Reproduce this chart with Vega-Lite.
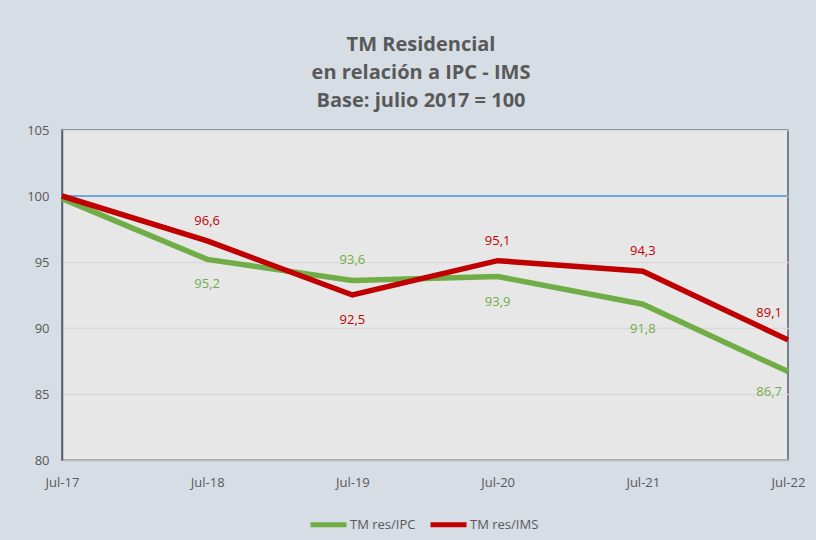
{
  "$schema": "https://vega.github.io/schema/vega-lite/v6.json",
  "width": 726,
  "height": 330,
  "autosize": "none",
  "padding": {"left": 62, "top": 130, "right": 28, "bottom": 80},
  "background": "#d6dde5",
  "config": {
    "locale": {"number": {"decimal": ",", "thousands": ".", "grouping": [3], "currency": ["", " €"]}},
    "font": "Open Sans",
    "view": {"fill": "#e7e7e7", "stroke": "#56606d", "strokeWidth": 1.5}
  },
  "title": {
    "text": ["TM Residencial", "en relación a IPC - IMS", "Base: julio 2017 = 100"],
    "anchor": "middle",
    "font": "Open Sans",
    "fontSize": 20,
    "fontWeight": "bold",
    "color": "#595959",
    "lineHeight": 28,
    "offset": 13,
    "dx": -4
  },
  "data": {
    "values": [
      {"fecha": "Jul-17", "serie": "TM res/IPC", "valor": 99.8},
      {"fecha": "Jul-18", "serie": "TM res/IPC", "valor": 95.2},
      {"fecha": "Jul-19", "serie": "TM res/IPC", "valor": 93.6},
      {"fecha": "Jul-20", "serie": "TM res/IPC", "valor": 93.9},
      {"fecha": "Jul-21", "serie": "TM res/IPC", "valor": 91.8},
      {"fecha": "Jul-22", "serie": "TM res/IPC", "valor": 86.7},
      {"fecha": "Jul-17", "serie": "TM res/IMS", "valor": 100.0},
      {"fecha": "Jul-18", "serie": "TM res/IMS", "valor": 96.6},
      {"fecha": "Jul-19", "serie": "TM res/IMS", "valor": 92.5},
      {"fecha": "Jul-20", "serie": "TM res/IMS", "valor": 95.1},
      {"fecha": "Jul-21", "serie": "TM res/IMS", "valor": 94.3},
      {"fecha": "Jul-22", "serie": "TM res/IMS", "valor": 89.1}
    ]
  },
  "encoding": {
    "x": {
      "field": "fecha",
      "type": "ordinal",
      "sort": ["Jul-17", "Jul-18", "Jul-19", "Jul-20", "Jul-21", "Jul-22"],
      "scale": {"type": "point", "padding": 0},
      "axis": {
        "title": null,
        "labelAngle": 0,
        "labelColor": "#595959",
        "labelFontSize": 13,
        "labelPadding": 16,
        "ticks": false,
        "domainColor": "#bfbfbf",
        "domainWidth": 2,
        "grid": false
      }
    },
    "y": {
      "field": "valor",
      "type": "quantitative",
      "scale": {"domain": [80, 105], "nice": false, "zero": false},
      "axis": {
        "title": null,
        "values": [80, 85, 90, 95, 100, 105],
        "labelColor": "#595959",
        "labelFontSize": 13,
        "labelPadding": 13,
        "ticks": false,
        "domainColor": "#56606d",
        "domainWidth": 1.5,
        "gridColor": "#d9d9d9",
        "gridWidth": 1.5
      }
    }
  },
  "layer": [
    {
      "mark": {"type": "rule", "color": "#6fa8dc", "strokeWidth": 2},
      "encoding": {"y": {"datum": 100}, "x": null}
    },
    {
      "mark": {"type": "line", "strokeWidth": 5.5, "strokeJoin": "miter"},
      "encoding": {
        "color": {
          "field": "serie",
          "type": "nominal",
          "sort": ["TM res/IPC", "TM res/IMS"],
          "scale": {"domain": ["TM res/IPC", "TM res/IMS"], "range": ["#70ad47", "#c00000"]},
          "legend": {
            "title": null,
            "orient": "none",
            "legendX": 246,
            "legendY": 374,
            "direction": "horizontal",
            "symbolType": "stroke",
            "symbolStrokeWidth": 5,
            "symbolSize": 1296,
            "labelColor": "#595959",
            "labelFontSize": 13,
            "labelOffset": 1,
            "columnPadding": 4
          }
        }
      }
    },
    {
      "transform": [{"filter": "datum.fecha != 'Jul-17' && datum.fecha != 'Jul-22' && ((datum.serie == 'TM res/IMS' && datum.fecha != 'Jul-19') || (datum.serie == 'TM res/IPC' && datum.fecha == 'Jul-19'))"}],
      "mark": {"type": "text", "dy": -20, "fontSize": 13},
      "encoding": {
        "text": {"field": "valor", "type": "quantitative", "format": ".1f"},
        "color": {"field": "serie", "type": "nominal", "scale": {"domain": ["TM res/IPC", "TM res/IMS"], "range": ["#5a8a3a", "#c00000"]}, "legend": null}
      }
    },
    {
      "transform": [{"filter": "datum.fecha != 'Jul-17' && datum.fecha != 'Jul-22' && ((datum.serie == 'TM res/IPC' && datum.fecha != 'Jul-19') || (datum.serie == 'TM res/IMS' && datum.fecha == 'Jul-19'))"}],
      "mark": {"type": "text", "dy": 25, "fontSize": 13},
      "encoding": {
        "text": {"field": "valor", "type": "quantitative", "format": ".1f"},
        "color": {"field": "serie", "type": "nominal", "scale": {"domain": ["TM res/IPC", "TM res/IMS"], "range": ["#5a8a3a", "#c00000"]}, "legend": null}
      }
    },
    {
      "transform": [{"filter": "datum.fecha == 'Jul-22' && datum.serie == 'TM res/IMS'"}],
      "mark": {"type": "text", "dy": -27, "dx": -6, "align": "right", "fontSize": 13},
      "encoding": {
        "text": {"field": "valor", "type": "quantitative", "format": ".1f"},
        "color": {"field": "serie", "type": "nominal", "scale": {"domain": ["TM res/IPC", "TM res/IMS"], "range": ["#5a8a3a", "#c00000"]}, "legend": null}
      }
    },
    {
      "transform": [{"filter": "datum.fecha == 'Jul-22' && datum.serie == 'TM res/IPC'"}],
      "mark": {"type": "text", "dy": 20, "dx": -6, "align": "right", "fontSize": 13},
      "encoding": {
        "text": {"field": "valor", "type": "quantitative", "format": ".1f"},
        "color": {"field": "serie", "type": "nominal", "scale": {"domain": ["TM res/IPC", "TM res/IMS"], "range": ["#5a8a3a", "#c00000"]}, "legend": null}
      }
    }
  ]
}
